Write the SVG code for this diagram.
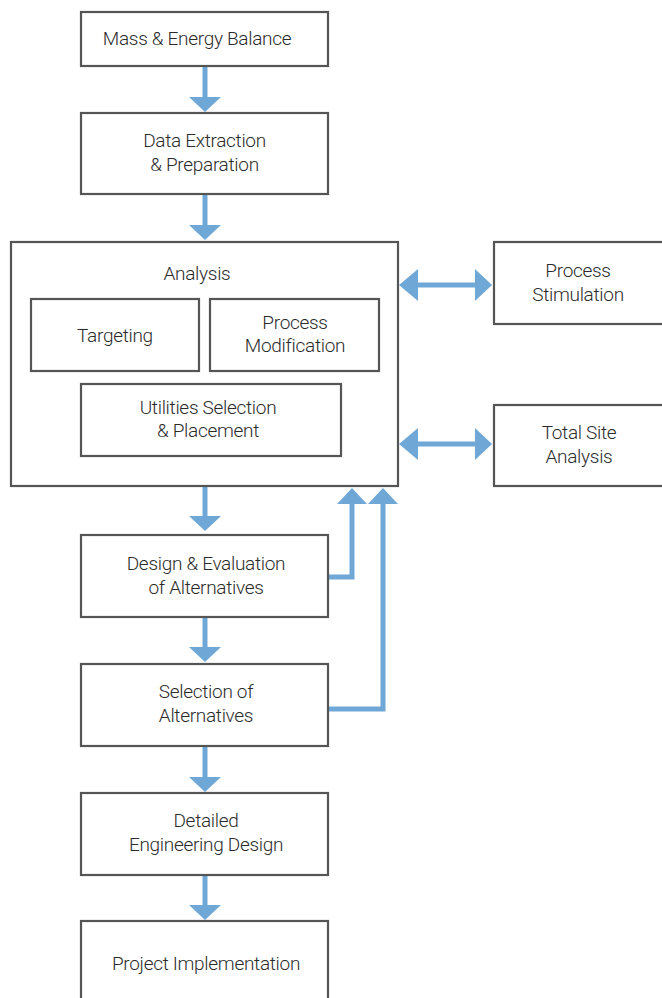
<svg xmlns="http://www.w3.org/2000/svg" width="662" height="998" viewBox="0 0 662 998">
<style>
.box{fill:#fff;stroke:#555;stroke-width:2.2}
text{font-family:Roboto,"Liberation Sans",sans-serif;font-weight:300;font-size:19px;fill:#2b2b2b;text-anchor:middle;letter-spacing:-0.3px}
.sh{fill:none;stroke:#6FA8D7;stroke-width:5}
.hd{fill:#6FA8D7}
</style>
<rect width="662" height="998" fill="#fff"/>
<g id="connectors">
<path class="sh" d="M205 66V98"/><path class="hd" d="M189 97H221L205 112Z"/>
<path class="sh" d="M205 194V226"/><path class="hd" d="M189 225H221L205 240Z"/>
<path class="sh" d="M205 486V517"/><path class="hd" d="M189 516H221L205 531Z"/>
<path class="sh" d="M205 617V648"/><path class="hd" d="M189 647H221L205 662Z"/>
<path class="sh" d="M205 746V778"/><path class="hd" d="M189 777H221L205 792Z"/>
<path class="sh" d="M205 875V906"/><path class="hd" d="M189 905H221L205 920Z"/>
<path class="sh" d="M418 285H476"/><path class="hd" d="M399 285L418 269V301Z"/><path class="hd" d="M492 285L475 269V301Z"/>
<path class="sh" d="M418 444H476"/><path class="hd" d="M399 444L418 428V460Z"/><path class="hd" d="M492 444L475 428V460Z"/>
<path class="sh" d="M328 577H352V503"/><path class="hd" d="M337 504H367L352 488Z"/>
<path class="sh" d="M328 709H383V503"/><path class="hd" d="M368 504H398L383 488Z"/>
</g>
<g id="n1"><rect class="box" x="81" y="12" width="247" height="54"/><text x="197" y="45">Mass &amp; Energy Balance</text></g>
<g id="n2"><rect class="box" x="81" y="113" width="247" height="81"/><text x="204.5" y="147">Data Extraction</text><text x="204.5" y="171">&amp; Preparation</text></g>
<g id="analysis"><rect class="box" x="11" y="242" width="387" height="244"/><text x="197" y="280">Analysis</text></g>
<g id="targeting"><rect class="box" x="31" y="299" width="168" height="72"/><text x="115" y="342">Targeting</text></g>
<g id="procmod"><rect class="box" x="210" y="299" width="169" height="72"/><text x="295" y="329">Process</text><text x="295" y="352">Modification</text></g>
<g id="utilities"><rect class="box" x="81" y="384" width="260" height="72"/><text x="208" y="414">Utilities Selection</text><text x="208" y="437">&amp; Placement</text></g>
<g id="procstim"><rect class="box" x="494" y="242" width="172" height="82"/><text x="578" y="277">Process</text><text x="578" y="301">Stimulation</text></g>
<g id="totalsite"><rect class="box" x="494" y="405" width="172" height="81"/><text x="579" y="439">Total Site</text><text x="579" y="463">Analysis</text></g>
<g id="design"><rect class="box" x="81" y="535" width="247" height="82"/><text x="206" y="570">Design &amp; Evaluation</text><text x="206" y="594">of Alternatives</text></g>
<g id="selection"><rect class="box" x="81" y="664" width="247" height="82"/><text x="206" y="698">Selection of</text><text x="206" y="722">Alternatives</text></g>
<g id="detailed"><rect class="box" x="81" y="793" width="247" height="82"/><text x="206" y="827">Detailed</text><text x="206" y="851">Engineering Design</text></g>
<g id="project"><rect class="box" x="81" y="921" width="247" height="90"/><text x="206" y="970">Project Implementation</text></g>
</svg>
